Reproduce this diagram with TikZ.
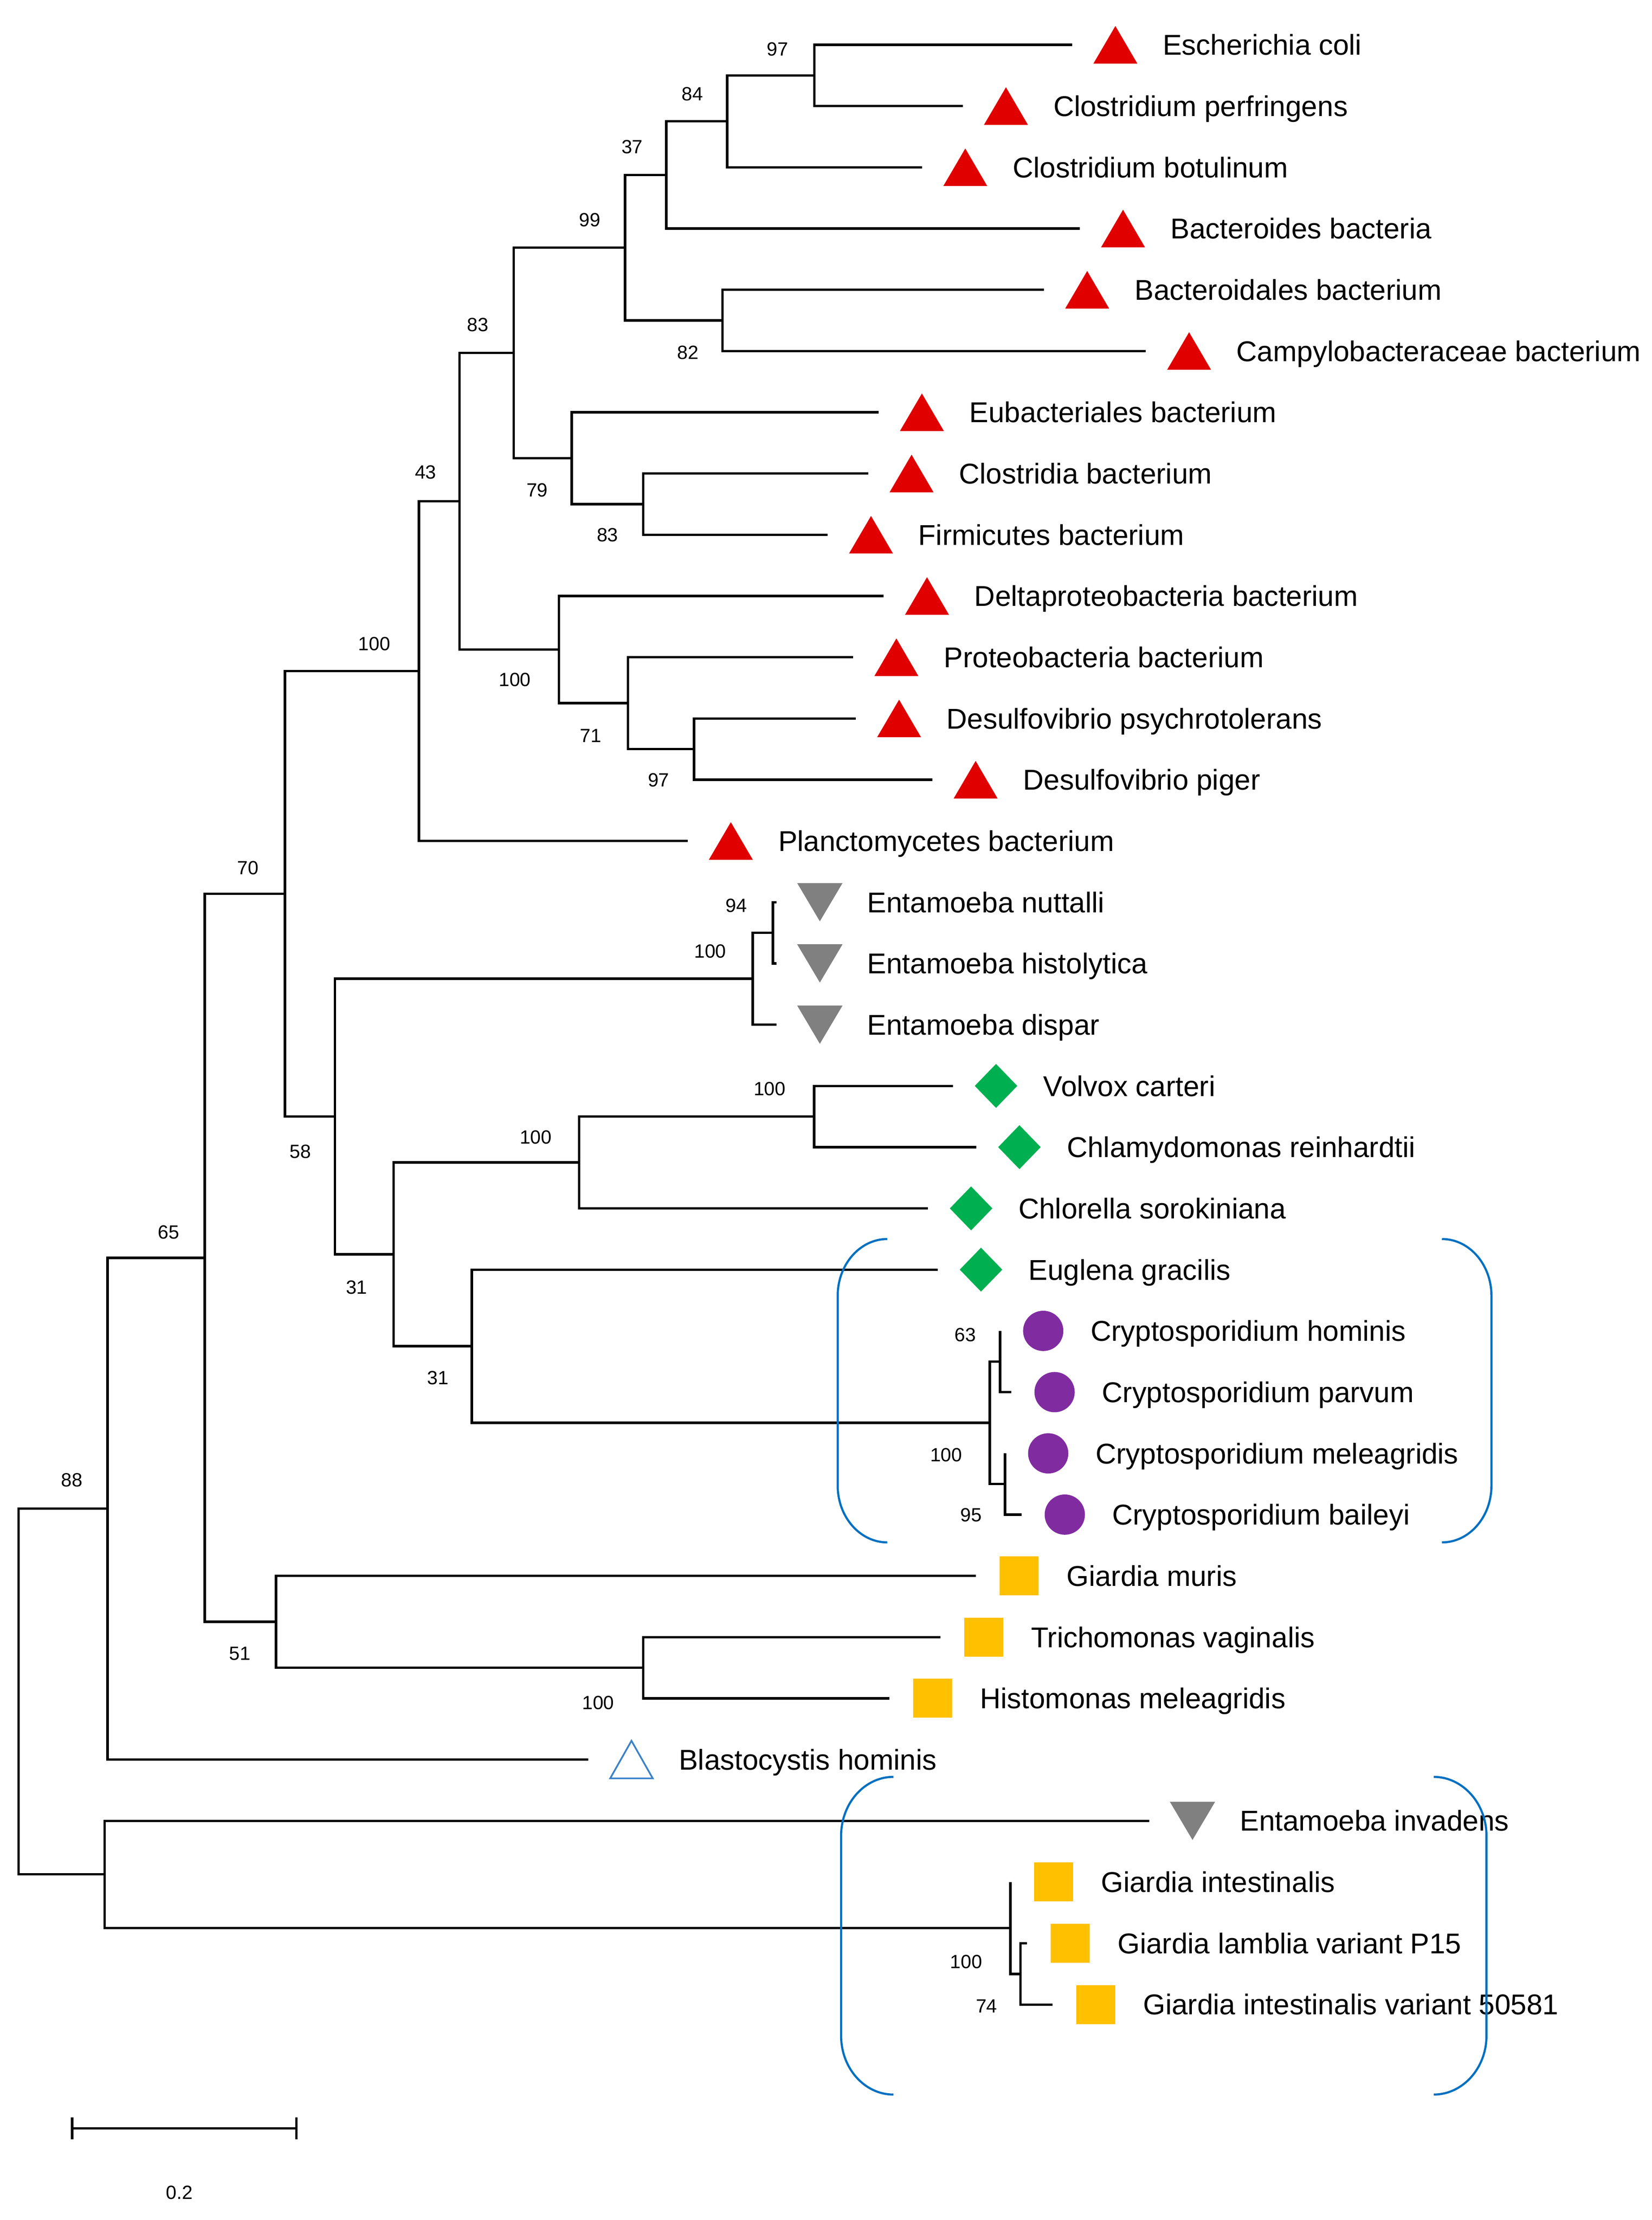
\documentclass[tikz,border=0pt]{standalone}
\usepackage{fontspec}
\setmainfont{Liberation Sans}
\usetikzlibrary{calc}
\definecolor{trired}{RGB}{224,0,0}
\definecolor{trigray}{RGB}{128,128,128}
\definecolor{diagreen}{RGB}{0,176,80}
\definecolor{dotpurple}{RGB}{128,44,160}
\definecolor{sqorange}{RGB}{255,192,0}
\definecolor{brblue}{RGB}{0,112,192}
\definecolor{triblue}{RGB}{60,130,200}
\tikzset{
  branch/.style={line width=1.7pt, line join=miter},
  leaflab/.style={anchor=west, inner sep=0pt, font=\fontsize{20.2}{24}\selectfont, text height=14.4pt, text depth=0pt},
  boot/.style={inner sep=0pt, font=\fontsize{13.5}{16}\selectfont, text height=9.7pt, text depth=0pt},
  bracket/.style={draw=brblue, line width=1.5pt},
  redtri/.pic={\fill[trired] (-15.5,13.25) -- (15.5,13.25) -- (0,-13.25) -- cycle;},
  graytri/.pic={\fill[trigray] (-16,-13.5) -- (16,-13.5) -- (0,13.5) -- cycle;},
  greendia/.pic={\fill[diagreen] (0,-15.5) -- (15,0) -- (0,15.5) -- (-15,0) -- cycle;},
  purpdot/.pic={\fill[dotpurple] (0,0) circle (14.2pt);},
  orsq/.pic={\fill[sqorange] (-13.75,-13.75) rectangle (13.75,13.75);},
  bluetri/.pic={\draw[triblue, line width=1.2pt, line join=miter] (-15,13.25) -- (15,13.25) -- (0,-13.25) -- cycle;},
}
\newcommand{\tipleaf}[5]{%
  \coordinate (#1) at (#2,#3);
  \pic at ($(#1)+(30.5,0)$) {#4};
  \node[leaflab] (#1l) at ($(#1)+(63.8,0)$) {#5};}
\newcommand{\clade}[3]{\draw[branch] (#1) |- (#2); \draw[branch] (#1) |- (#3);}
\begin{document}
\begin{tikzpicture}[x=1pt,y=-1pt]
\useasboundingbox (0,0) rectangle (1165.2,1566);
% ---------- leaves ----------
\tipleaf{t0}{756.4}{31.6}{redtri}{Escherichia coli}
\tipleaf{t1}{679.2}{74.8}{redtri}{Clostridium perfringens}
\tipleaf{t2}{650.5}{118.0}{redtri}{Clostridium botulinum}
\tipleaf{t3}{761.8}{161.2}{redtri}{Bacteroides bacteria}
\tipleaf{t4}{736.5}{204.4}{redtri}{Bacteroidales bacterium}
\tipleaf{t5}{808.4}{247.6}{redtri}{Campylobacteraceae bacterium}
\tipleaf{t6}{619.9}{290.8}{redtri}{Eubacteriales bacterium}
\tipleaf{t7}{612.6}{334.0}{redtri}{Clostridia bacterium}
\tipleaf{t8}{584.0}{377.2}{redtri}{Firmicutes bacterium}
\tipleaf{t9}{623.5}{420.4}{redtri}{Deltaproteobacteria bacterium}
\tipleaf{t10}{601.9}{463.6}{redtri}{Proteobacteria bacterium}
\tipleaf{t11}{603.8}{506.8}{redtri}{Desulfovibrio psychrotolerans}
\tipleaf{t12}{657.8}{550.0}{redtri}{Desulfovibrio piger}
\tipleaf{t13}{485.1}{593.2}{redtri}{Planctomycetes bacterium}
\tipleaf{t14}{547.9}{636.4}{graytri}{Entamoeba nuttalli}
\tipleaf{t15}{547.9}{679.6}{graytri}{Entamoeba histolytica}
\tipleaf{t16}{547.9}{722.8}{graytri}{Entamoeba dispar}
\tipleaf{t17}{672.2}{766.0}{greendia}{Volvox carteri}
\tipleaf{t18}{688.7}{809.2}{greendia}{Chlamydomonas reinhardtii}
\tipleaf{t19}{654.6}{852.4}{greendia}{Chlorella sorokiniana}
\tipleaf{t20}{661.6}{895.6}{greendia}{Euglena gracilis}
\tipleaf{t21}{705.5}{938.8}{purpdot}{Cryptosporidium hominis}
\tipleaf{t22}{713.5}{982.0}{purpdot}{Cryptosporidium parvum}
\tipleaf{t23}{709.0}{1025.2}{purpdot}{Cryptosporidium meleagridis}
\tipleaf{t24}{720.7}{1068.4}{purpdot}{Cryptosporidium baileyi}
\tipleaf{t25}{688.5}{1111.6}{orsq}{Giardia muris}
\tipleaf{t26}{663.4}{1154.8}{orsq}{Trichomonas vaginalis}
\tipleaf{t27}{627.4}{1198.0}{orsq}{Histomonas meleagridis}
\tipleaf{t28}{415.0}{1241.2}{bluetri}{Blastocystis hominis}
\tipleaf{t29}{810.8}{1284.4}{graytri}{Entamoeba invadens}
\tipleaf{t30}{712.8}{1327.6}{orsq}{Giardia intestinalis}
\tipleaf{t31}{724.5}{1370.8}{orsq}{Giardia lamblia variant P15}
\tipleaf{t32}{742.5}{1414.0}{orsq}{Giardia intestinalis variant 50581}
% ---------- internal nodes ----------
\coordinate (n97a) at (574.5,53.2);
\coordinate (n84) at (513.0,85.6);
\coordinate (n37) at (470.0,123.4);
\coordinate (n82) at (509.7,226.0);
\coordinate (n99) at (441.0,174.7);
\coordinate (n83b) at (453.8,355.6);
\coordinate (n79) at (403.3,323.2);
\coordinate (n83t) at (362.5,248.95);
\coordinate (n97b) at (489.7,528.4);
\coordinate (n71) at (443.0,496.0);
\coordinate (nd100) at (394.3,458.2);
\coordinate (n43) at (324.1,353.6);
\coordinate (nb100) at (295.5,473.4);
\coordinate (n94) at (545.3,658.0);
\coordinate (ne100) at (531.0,690.4);
\coordinate (nv100) at (574.4,787.6);
\coordinate (ng100) at (408.6,820.0);
\coordinate (n63) at (705.5,960.4);
\coordinate (n95) at (709.0,1046.8);
\coordinate (nc100) at (698.3,1003.6);
\coordinate (n31i) at (332.8,949.6);
\coordinate (n31o) at (277.7,884.8);
\coordinate (n58) at (236.3,787.6);
\coordinate (n70) at (201.0,630.5);
\coordinate (nt100) at (453.7,1176.4);
\coordinate (n51) at (194.7,1144.0);
\coordinate (n65) at (144.4,887.25);
\coordinate (n88) at (75.9,1064.2);
\coordinate (n74) at (720.0,1392.4);
\coordinate (ngi100) at (712.8,1360.0);
\coordinate (nbot) at (73.8,1322.2);
\coordinate (root) at (13.1,1193.2);
% ---------- branches ----------
\clade{n97a}{t0}{t1}
\clade{n84}{n97a}{t2}
\clade{n37}{n84}{t3}
\clade{n82}{t4}{t5}
\clade{n99}{n37}{n82}
\clade{n83b}{t7}{t8}
\clade{n79}{t6}{n83b}
\clade{n83t}{n99}{n79}
\clade{n97b}{t11}{t12}
\clade{n71}{t10}{n97b}
\clade{nd100}{t9}{n71}
\clade{n43}{n83t}{nd100}
\clade{nb100}{n43}{t13}
\clade{n94}{t14}{t15}
\clade{ne100}{n94}{t16}
\clade{nv100}{t17}{t18}
\clade{ng100}{nv100}{t19}
\clade{n63}{t21}{t22}
\clade{n95}{t23}{t24}
\clade{nc100}{n63}{n95}
\clade{n31i}{t20}{nc100}
\clade{n31o}{ng100}{n31i}
\clade{n58}{ne100}{n31o}
\clade{n70}{nb100}{n58}
\clade{nt100}{t26}{t27}
\clade{n51}{t25}{nt100}
\clade{n65}{n70}{n51}
\clade{n88}{n65}{t28}
\clade{n74}{t31}{t32}
\clade{ngi100}{t30}{n74}
\clade{nbot}{t29}{ngi100}
\clade{root}{n88}{nbot}
% ---------- bootstrap values ----------
\node[boot] (b97a) at (548.5,34.5) {97};
\node[boot] (b84) at (488.6,66.2) {84};
\node[boot] (b37) at (446,103.5) {37};
\node[boot] (b99) at (416,155) {99};
\node[boot] (b82) at (485.4,248.6) {82};
\node[boot] (b83t) at (337,229) {83};
\node[boot] (b79) at (379,345.5) {79};
\node[boot] (b83b) at (428.6,377.3) {83};
\node[boot] (b43) at (300.3,332.8) {43};
\node[boot] (bd100) at (363.2,479.2) {100};
\node[boot] (b71) at (416.8,518.9) {71};
\node[boot] (b97b) at (464.6,550.2) {97};
\node[boot] (bb100) at (264,454) {100};
\node[boot] (b70) at (175,612) {70};
\node[boot] (b94) at (519.4,638.5) {94};
\node[boot] (be100) at (501,670.7) {100};
\node[boot] (b58) at (212,812) {58};
\node[boot] (bv100) at (543,767.9) {100};
\node[boot] (bg100) at (378,801.9) {100};
\node[boot] (b31o) at (251.6,907.8) {31};
\node[boot] (b31i) at (308.9,971.8) {31};
\node[boot] (b63) at (681,941.4) {63};
\node[boot] (bc100) at (667.5,1026) {100};
\node[boot] (b95) at (685,1068.4) {95};
\node[boot] (b65) at (119,869) {65};
\node[boot] (b51) at (169.3,1166.1) {51};
\node[boot] (bt100) at (422,1201) {100};
\node[boot] (b88) at (50.8,1043.7) {88};
\node[boot] (bgi100) at (681.7,1383.5) {100};
\node[boot] (b74) at (696,1415) {74};
% ---------- brackets ----------
\draw[bracket] (626,874) .. controls (606.7,874) and (591,892) .. (591,914) -- (591,1048) .. controls (591,1070) and (606.7,1088) .. (626,1088);
\draw[bracket] (1017.3,874) .. controls (1036.6,874) and (1052.2,892) .. (1052.2,914) -- (1052.2,1048) .. controls (1052.2,1070) and (1036.6,1088) .. (1017.3,1088);
\draw[bracket] (630.3,1253.4) .. controls (610,1253.4) and (593.4,1272) .. (593.4,1295) -- (593.4,1436) .. controls (593.4,1459) and (610,1477.5) .. (630.3,1477.5);
\draw[bracket] (1011.5,1253.4) .. controls (1031.8,1253.4) and (1048.7,1272) .. (1048.7,1295) -- (1048.7,1436) .. controls (1048.7,1459) and (1031.8,1477.5) .. (1011.5,1477.5);
% ---------- scale bar ----------
\coordinate (sbL) at (50.9,1501.3);
\coordinate (sbR) at (209.2,1501.3);
\draw[branch] (sbL) -- (sbR);
\draw[branch] ($(sbL)+(0,-7.7)$) -- ($(sbL)+(0,7.8)$);
\draw[branch] ($(sbR)+(0,-7.7)$) -- ($(sbR)+(0,7.8)$);
\node[boot] (sblab) at (126.6,1546.3) {0.2};
\end{tikzpicture}
\end{document}
